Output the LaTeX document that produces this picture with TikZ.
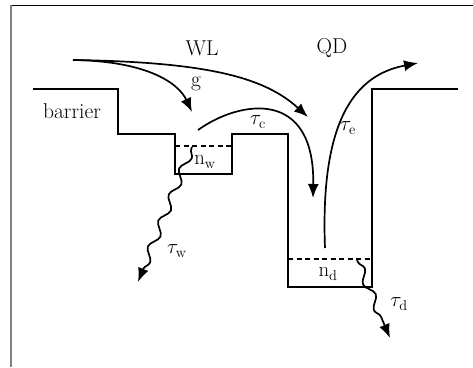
\documentclass[tikz,border=0pt]{standalone}
\usetikzlibrary{arrows.meta,decorations.pathmorphing}
\begin{document}
\begin{tikzpicture}[x=1pt,y=-1pt,
  lbl/.style={font=\fontsize{21.5}{25}\selectfont, inner sep=0pt},
  band/.style={line width=2.2pt, line join=miter},
  lev/.style={line width=2.2pt, dash pattern=on 5pt off 3.5pt},
  flow/.style={line width=1.7pt, -{Latex[length=14pt,width=11pt]}},
  wave/.style={line width=1.7pt, -{Latex[length=14pt,width=11pt]},
    decorate, decoration={snake, amplitude=4pt, segment length=28pt, pre length=2pt, post length=13pt}}]
\useasboundingbox (0,0) rectangle (473,367);
% frame
\draw[line width=1pt] (11,5) -- (473,5);
\draw[line width=1.5pt, gray] (11,5) -- (11,367);
% band profile
\draw[band] (33,89) -- (118,89) -- (118,134) -- (175,134) -- (175,174) -- (232,174) -- (232,134)
  -- (288,134) -- (288,287) -- (372,287) -- (372,89) -- (458,89);
% levels
\coordinate (w1) at (175,146); \coordinate (w2) at (232,146);
\coordinate (d1) at (288,259); \coordinate (d2) at (372,259);
\draw[lev] (w1) -- (w2);
\draw[lev] (d1) -- (d2);
% labels
\node[lbl] (wl) at (202,48) {WL};
\node[lbl] (qd) at (332,48) {QD};
\node[lbl] (g) at (196,84) {g};
\node[lbl] (bar) at (72,111) {barrier};
\node[lbl] (tc) at (258,122) {$\tau_{\mathrm{c}}$};
\node[lbl] (te) at (348,128) {$\tau_{\mathrm{e}}$};
\node[lbl] (nw) at (205,162) {$\mathrm{n_w}$};
\node[lbl] (tw) at (177,251) {$\tau_{\mathrm{w}}$};
\node[lbl] (nd) at (328,274) {$\mathrm{n_d}$};
\node[lbl] (td) at (399,304) {$\tau_{\mathrm{d}}$};
% coordinates for flows
\coordinate (src) at (73,60);
\coordinate (gend) at (192,112);
\coordinate (qend) at (308,117);
\coordinate (cst) at (198,130);
\coordinate (cend) at (313,198);
\coordinate (est) at (325,248);
\coordinate (eend) at (418,63);
\coordinate (wst) at (192,147);
\coordinate (wend) at (138,282);
\coordinate (dst) at (357,260);
\coordinate (dend) at (390,338);
% flows
\draw[flow] (src) .. controls (145,61) and (178,82) .. (gend);
\draw[flow] (src) .. controls (210,62) and (265,78) .. (qend);
\draw[flow] (cst) .. controls (240,100) and (315,88) .. (cend);
\draw[flow] (est) .. controls (320,120) and (355,75) .. (eend);
\draw[wave] (wst) -- (wend);
\draw[wave] (dst) -- (dend);
\end{tikzpicture}
\end{document}
